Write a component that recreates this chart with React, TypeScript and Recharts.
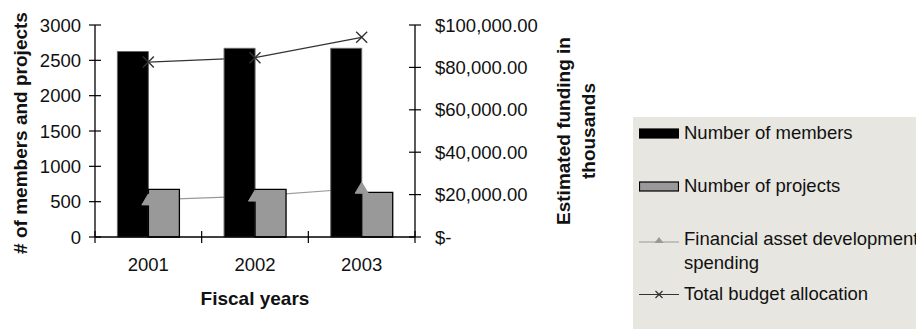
import React from "react";
import { ComposedChart, Bar, Line, XAxis, YAxis, Legend } from "recharts";

const years = ["2001", "2002", "2003"];
const members = [2625, 2670, 2670];
const projects = [675, 675, 632];
const financialSpending = [17500, 19300, 23000];
const totalBudget = [82500, 84600, 94200];

const countTicks = [0, 500, 1000, 1500, 2000, 2500, 3000];
const fundTicks = [0, 20000, 40000, 60000, 80000, 100000];

const data = years.map((year, i) => ({
  year,
  members: members[i],
  projects: projects[i],
  financial: financialSpending[i],
  total: totalBudget[i],
}));

const font = "'Liberation Sans', Arial, sans-serif";
const ink = "#000";
const legendBg = "#e7e6e0";

const W = 916;
const H = 329;
const margin = { top: 25, right: 321, bottom: 22, left: 0 };
const leftW = 95;
const rightW = 180;
const plotW = W - margin.left - margin.right - leftW - rightW;

const fmtFund = (v: number) =>
  v === 0 ? "$-" : "$" + v.toLocaleString("en-US", { minimumFractionDigits: 2, maximumFractionDigits: 2 });

function LeftTick({ x, y, payload }: any) {
  return (
    <g>
      <line x1={x - 6} x2={x + 6} y1={y} y2={y} stroke={ink} strokeWidth={1.2} />
      <text x={x - 14} y={y} dy="0.36em" textAnchor="end" fontSize={18.5} fontFamily={font} fill="#111">
        {payload.value}
      </text>
    </g>
  );
}

function RightTick({ x, y, payload }: any) {
  return (
    <g>
      <line x1={x - 6} x2={x + 6} y1={y} y2={y} stroke={ink} strokeWidth={1.2} />
      <text x={x + 20} y={y} dy="0.36em" textAnchor="start" fontSize={18.5} fontFamily={font} fill="#111">
        {fmtFund(payload.value)}
      </text>
    </g>
  );
}

function YearTick({ x, y, payload, index }: any) {
  const band = plotW / years.length;
  const last = index === years.length - 1;
  return (
    <g>
      <line x1={x - band / 2} x2={x - band / 2} y1={y - 6} y2={y + 6} stroke={ink} strokeWidth={1.2} />
      {last && <line x1={x + band / 2} x2={x + band / 2} y1={y - 6} y2={y + 6} stroke={ink} strokeWidth={1.2} />}
      <text x={x} y={y + 27} dy="0.36em" textAnchor="middle" fontSize={18.5} fontFamily={font} fill="#111">
        {payload.value}
      </text>
    </g>
  );
}

function XDot({ cx, cy }: any) {
  if (cx == null || cy == null) return null;
  const s = 5.5;
  return (
    <path
      d={`M${cx - s},${cy - s}L${cx + s},${cy + s}M${cx - s},${cy + s}L${cx + s},${cy - s}`}
      stroke="#333"
      strokeWidth={1.4}
      fill="none"
    />
  );
}

function TriDot({ cx, cy }: any) {
  if (cx == null || cy == null) return null;
  return <path d={`M${cx},${cy - 6}L${cx + 6.5},${cy + 5}L${cx - 6.5},${cy + 5}Z`} fill="#999" stroke="#999" />;
}

const legendRows: Record<string, { top: number; kind: string }> = {
  members: { top: 16, kind: "bar" },
  projects: { top: 69, kind: "bar" },
  financial: { top: 122, kind: "tri" },
  total: { top: 176.5, kind: "x" },
};

function LegendBox({ payload }: any) {
  const items = (payload || []).filter((p: any) => legendRows[p.dataKey]);
  return (
    <div style={{ position: "relative", width: "100%", height: "100%", background: legendBg, fontFamily: font }}>
      {items.map((p: any) => {
        const row = legendRows[p.dataKey];
        return (
          <div key={p.dataKey} style={{ position: "absolute", left: 6, top: row.top - 12, height: 24 }}>
            <svg width={40} height={24} style={{ position: "absolute", left: 0, top: 0 }}>
              {row.kind === "bar" && (
                <rect x={0.5} y={8} width={39} height={9} fill={p.dataKey === "members" ? "#000" : "#999"} stroke="#000" strokeWidth={1.2} />
              )}
              {row.kind === "tri" && (
                <g>
                  <line x1={0} x2={40} y1={15} y2={15} stroke="#999" strokeWidth={1.2} />
                  <path d="M20,10L24.5,16L15.5,16Z" fill="#999" />
                </g>
              )}
              {row.kind === "x" && (
                <g>
                  <line x1={0} x2={40} y1={12.5} y2={12.5} stroke="#333" strokeWidth={1.2} />
                  <path d="M16.5,9L23.5,16M16.5,16L23.5,9" stroke="#333" strokeWidth={1.2} />
                </g>
              )}
            </svg>
            <div
              style={{
                position: "absolute",
                left: 45,
                top: 0,
                width: 250,
                fontSize: 18.5,
                lineHeight: "24px",
                color: "#111",
                whiteSpace: "normal",
              }}
            >
              {p.value}
            </div>
          </div>
        );
      })}
    </div>
  );
}

export default function App() {
  return (
    <div style={{ position: "absolute", left: 0, top: 0, width: W, height: H, overflow: "hidden", background: "#fff" }}>
      <ComposedChart width={W} height={H} data={data} margin={margin} barCategoryGap="21%" barGap={0}>
        <XAxis
          dataKey="year"
          height={70}
          axisLine={{ stroke: ink, strokeWidth: 1.3 }}
          tickLine={false}
          tickSize={0}
          tickMargin={0}
          tick={<YearTick />}
          interval={0}
          label={{
            content: ({ viewBox }: any) => (
              <text
                x={viewBox.x + viewBox.width / 2}
                y={viewBox.y + 61}
                dy="0.36em"
                textAnchor="middle"
                fontSize={19}
                fontWeight="bold"
                fontFamily={font}
                fill="#111"
              >
                Fiscal years
              </text>
            ),
          }}
        />
        <XAxis xAxisId="top" dataKey="year" orientation="top" height={0} tick={false} tickLine={false} axisLine={{ stroke: ink, strokeWidth: 1.3 }} />
        <YAxis
          yAxisId="count"
          width={leftW}
          domain={[0, 3000]}
          ticks={countTicks}
          interval={0}
          axisLine={{ stroke: ink, strokeWidth: 1.3 }}
          tickLine={false}
          tickSize={0}
          tickMargin={0}
          tick={<LeftTick />}
          label={{
            content: ({ viewBox }: any) => {
              const cx = viewBox.x + 20;
              const cy = viewBox.y + viewBox.height / 2 + 2;
              return (
                <text
                  x={cx}
                  y={cy}
                  dy="0.36em"
                  textAnchor="middle"
                  transform={`rotate(-90 ${cx} ${cy})`}
                  fontSize={19}
                  fontWeight="bold"
                  fontFamily={font}
                  fill="#111"
                >
                  # of members and projects
                </text>
              );
            },
          }}
        />
        <YAxis
          yAxisId="fund"
          orientation="right"
          width={rightW}
          domain={[0, 100000]}
          ticks={fundTicks}
          interval={0}
          axisLine={{ stroke: ink, strokeWidth: 1.3 }}
          tickLine={false}
          tickSize={0}
          tickMargin={0}
          tick={<RightTick />}
          label={{
            content: ({ viewBox }: any) => {
              const cy = viewBox.y + viewBox.height / 2;
              const x1 = viewBox.x + 148;
              const x2 = viewBox.x + 173;
              return (
                <g fontSize={19} fontWeight="bold" fontFamily={font} fill="#111">
                  <text x={x1} y={cy} dy="0.36em" textAnchor="middle" transform={`rotate(-90 ${x1} ${cy})`}>
                    Estimated funding in
                  </text>
                  <text x={x2} y={cy} dy="0.36em" textAnchor="middle" transform={`rotate(-90 ${x2} ${cy})`}>
                    thousands
                  </text>
                </g>
              );
            },
          }}
        />
        <Line
          yAxisId="fund"
          dataKey="financial"
          name="Financial asset development spending"
          stroke="#999"
          strokeWidth={1.2}
          dot={<TriDot />}
          activeDot={false}
          isAnimationActive={false}
          zIndex={250}
        />
        <Line
          yAxisId="fund"
          dataKey="total"
          name="Total budget allocation"
          stroke="#333"
          strokeWidth={1.3}
          dot={<XDot />}
          activeDot={false}
          isAnimationActive={false}
          zIndex={250}
        />
        <Bar yAxisId="count" dataKey="members" name="Number of members" fill="#000" stroke="#666" strokeWidth={1} isAnimationActive={false} />
        <Bar yAxisId="count" dataKey="projects" name="Number of projects" fill="#999" stroke="#000" strokeWidth={1.3} isAnimationActive={false} />
        <Legend
          layout="vertical"
          align="center"
          verticalAlign="middle"
          content={<LegendBox />}
          wrapperStyle={{ left: 633, top: 117, width: 290, height: 212 }}
        />
      </ComposedChart>
    </div>
  );
}
